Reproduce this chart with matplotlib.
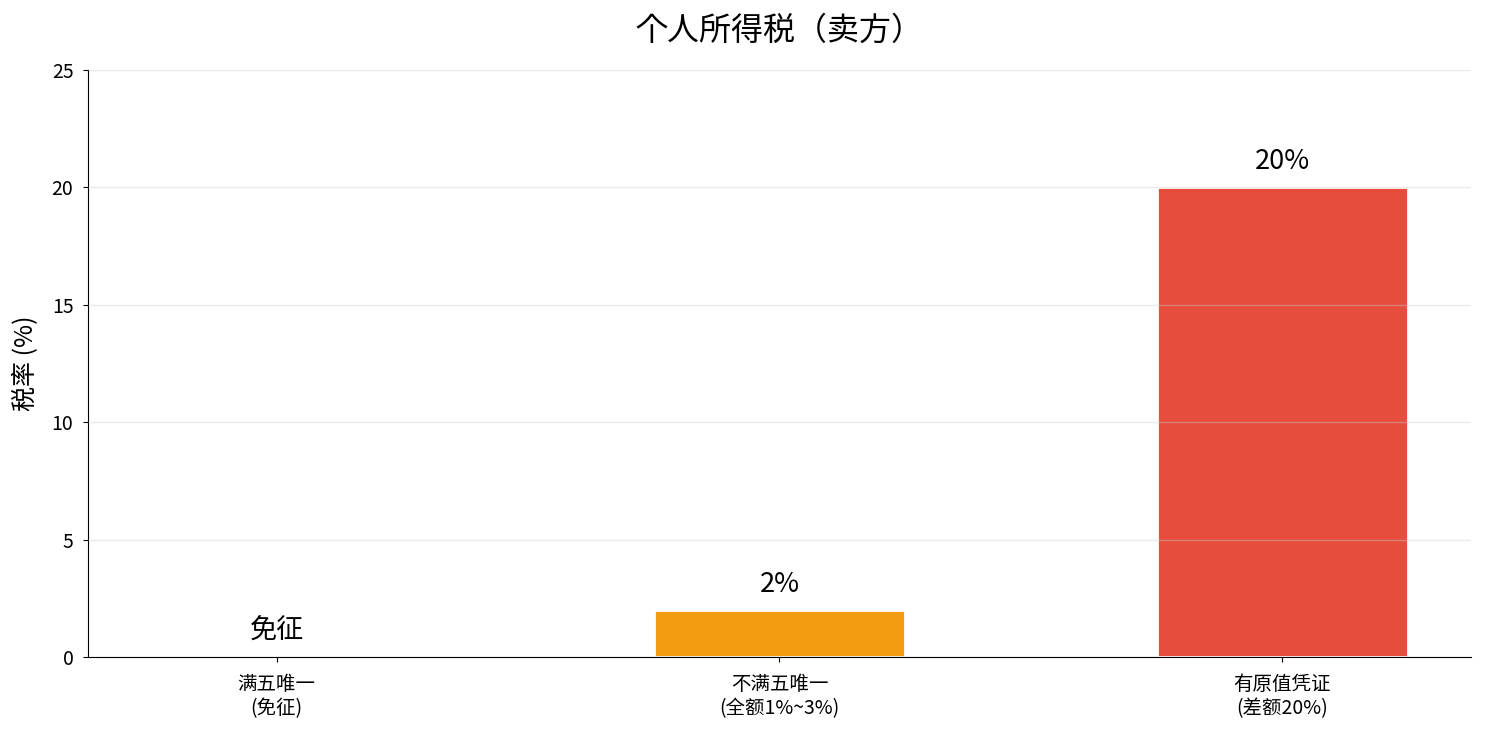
import matplotlib
matplotlib.use("Agg")
import matplotlib.pyplot as plt

plt.rcParams['font.family'] = ['Noto Sans CJK SC', 'DejaVu Sans']

categories = ['满五唯一\n(免征)', '不满五唯一\n(全额1%~3%)', '有原值凭证\n(差额20%)']
rates = [0, 2, 20]
bar_labels = ['免征', '2%', '20%']
colors = ['#2ecc71', '#f39c12', '#e74c3c']

fig = plt.figure(figsize=(14.86, 7.32), dpi=100)
ax = fig.add_axes([0.0592, 0.1025, 0.9307, 0.8019])

x = list(range(len(categories)))
ax.bar(x, rates, width=0.5, color=colors, edgecolor='white', linewidth=2)
for xi, h, lab in zip(x, rates, bar_labels):
    ax.text(xi, h + 1.1, lab, ha='center', va='center', fontsize=19.5)

ax.set_xticks(x)
ax.set_xticklabels(categories, fontsize=14)
ax.tick_params(axis='x', pad=8.5)
ax.set_ylim(0, 25)
ax.set_yticks([0, 5, 10, 15, 20, 25])
ax.tick_params(axis='y', labelsize=14, pad=7)
ax.set_ylabel('税率 (%)', fontsize=18, labelpad=9)
ax.set_title('个人所得税（卖方）', fontsize=23, pad=22,
             family=['Noto Sans CJK KR', 'DejaVu Sans'])
ax.grid(axis='y', color='#cccccc', alpha=0.4, linewidth=1)
ax.set_axisbelow(False)
ax.spines['top'].set_visible(False)
ax.spines['right'].set_visible(False)

fig.savefig('out.png', dpi=100)
